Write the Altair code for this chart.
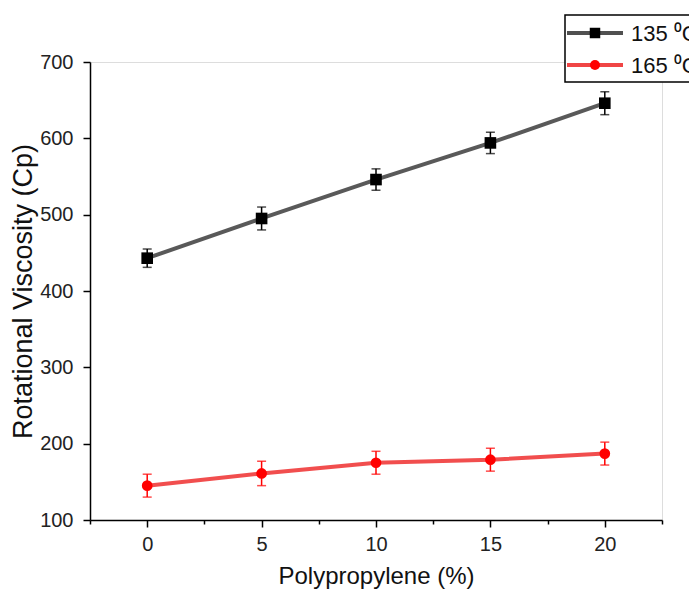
import altair as alt
import pandas as pd

# ---- data ----
pp = [0, 5, 10, 15, 20]
visc_135 = [443, 495, 546, 594, 646]
err_135 = [12, 15, 14, 14, 15]
visc_165 = [145, 161, 175, 179, 187]
err_165 = [15, 16, 15, 15, 15]
series_names = ["135 \u2070C", "165 \u2070C"]
x_ticks = [-2.5, 0, 2.5, 5, 7.5, 10, 12.5, 15, 17.5, 20, 22.5]
y_ticks = [100, 150, 200, 250, 300, 350, 400, 450, 500, 550, 600, 650, 700]

rows = []
for s, vals, errs in [(series_names[0], visc_135, err_135), (series_names[1], visc_165, err_165)]:
    for x, v, e in zip(pp, vals, errs):
        rows.append({"pp": x, "visc": v, "lo": v - e, "hi": v + e, "series": s})
df = pd.DataFrame(rows)

FONT = "Liberation Sans"
line_colors = ["#505050", "#f04545"]
mark_colors = ["#000000", "#ff0000"]

xscale = alt.Scale(domain=[-2.5, 22.5], nice=False, zero=False)
yscale = alt.Scale(domain=[100, 700], nice=False, zero=False)

x_enc = alt.X("pp:Q", scale=xscale, title="Polypropylene (%)",
              axis=alt.Axis(values=x_ticks, grid=False,
                            labelExpr="datum.value % 5 === 0 ? datum.label : ''",
                            tickSize={"condition": {"test": "datum.value % 5 === 0", "value": 7}, "value": 4},
                            domainColor="black", tickColor="black", domainWidth=1.5, tickWidth=1.5,
                            labelFont=FONT, labelFontSize=20, labelColor="#222",
                            labelPadding=7, titleFont=FONT, titleFontSize=24,
                            titleFontWeight="normal", titleColor="#111", titlePadding=10))
y_enc = alt.Y("visc:Q", scale=yscale, title="Rotational Viscosity (Cp)",
              axis=alt.Axis(values=y_ticks, grid=False,
                            labelExpr="datum.value % 100 === 0 ? datum.label : ''",
                            tickSize={"condition": {"test": "datum.value % 100 === 0", "value": 7}, "value": 4},
                            domainColor="black", tickColor="black", domainWidth=1.5, tickWidth=1.5,
                            labelFont=FONT, labelFontSize=20, labelColor="#222",
                            labelPadding=10, titleFont=FONT, titleFontSize=27,
                            titleFontWeight="normal", titleColor="#111", titlePadding=2))

base = alt.Chart(df)
mark_color = alt.Color("series:N", scale=alt.Scale(domain=series_names, range=mark_colors), legend=None)

lines = base.mark_line(strokeWidth=4, opacity=0.95).encode(
    x=x_enc, y=y_enc,
    color=alt.Color("series:N", scale=alt.Scale(domain=series_names, range=line_colors), legend=None),
)
err_rules = base.mark_rule(strokeWidth=1.5).encode(
    x="pp:Q", y="lo:Q", y2="hi:Q", color=mark_color)
caps_lo = base.mark_tick(orient="horizontal", size=9, thickness=1.5).encode(
    x="pp:Q", y="lo:Q", color=mark_color)
caps_hi = base.mark_tick(orient="horizontal", size=9, thickness=1.5).encode(
    x="pp:Q", y="hi:Q", color=mark_color)
pts = base.mark_point(filled=True, opacity=1).encode(
    x="pp:Q", y="visc:Q",
    shape=alt.Shape("series:N", scale=alt.Scale(domain=series_names, range=["square", "circle"]), legend=None),
    size=alt.Size("series:N", scale=alt.Scale(domain=series_names, range=[135, 115]), legend=None),
    color=mark_color,
)

# ---- hand-built legend (box runs off the right edge, as in the reference) ----
one = pd.DataFrame({"t": [0]})
leg_box = alt.Chart(one).mark_rect(fill="white", stroke="black", strokeWidth=1.5).encode(
    x=alt.value(475), x2=alt.value(660), y=alt.value(-47), y2=alt.value(20))
leg_items = []
for i, (name, lc, mc, shp, sz) in enumerate(zip(series_names, line_colors, mark_colors, ["square", "circle"], [110, 100])):
    yy = -29 + i * 32
    leg_items.append(alt.Chart(one).mark_rule(strokeWidth=4, color=lc).encode(
        x=alt.value(477), x2=alt.value(533), y=alt.value(yy)))
    leg_items.append(alt.Chart(one).mark_point(filled=True, opacity=1, shape=shp, size=sz, color=mc).encode(
        x=alt.value(505), y=alt.value(yy)))
    leg_items.append(alt.Chart(pd.DataFrame({"t": [name]})).mark_text(
        align="left", baseline="middle", font=FONT, fontSize=22, color="#111").encode(
        text="t:N", x=alt.value(541), y=alt.value(yy + 1)))

chart = alt.layer(lines, err_rules, caps_lo, caps_hi, pts, leg_box, *leg_items).resolve_scale(
    color="independent"
).properties(
    width=572, height=458,
    autosize=alt.AutoSizeParams(type="none"),
    padding={"left": 82, "top": 54, "right": 27, "bottom": 69},
).configure_view(stroke=None).configure(background="white")

chart.save("out.html", embed_options={"renderer": "svg", "actions": False})
